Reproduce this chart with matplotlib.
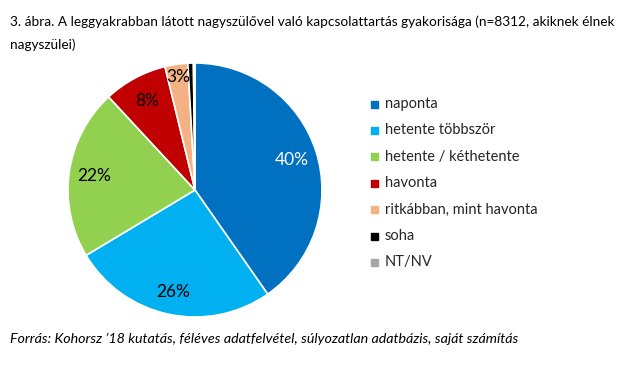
import matplotlib.pyplot as plt
import numpy as np

plt.rcParams['font.family'] = ['Lato', 'DejaVu Sans']

categories = ["naponta", "hetente többször", "hetente / kéthetente", "havonta",
              "ritkábban, mint havonta", "soha", "NT/NV"]
values = [40.3, 26.1, 21.7, 8.1, 2.9, 0.7, 0.2]
labels = ["40%", "26%", "22%", "8%", "3%", "", ""]
colors = ["#0070C0", "#00B0F0", "#92D050", "#C00000", "#F4B183", "#000000", "#A6A6A6"]
text_colors = ["white", "black", "black", "black", "black", "black", "black"]

W, H = 625, 371
fig = plt.figure(figsize=(W / 100, H / 100), dpi=100)

# pie axes: center ~ (195, 190), radius ~127 px
cx, cy, r = 195, 190, 127
ax = fig.add_axes([(cx - r) / W, 1 - (cy + r) / H, 2 * r / W, 2 * r / H])
wedges, _ = ax.pie(values, colors=colors, startangle=90, counterclock=False,
                   wedgeprops=dict(edgecolor="white", linewidth=1.2))
ax.set_aspect("equal")
ax.set_xlim(-1, 1)
ax.set_ylim(-1, 1)

# percent labels
total = sum(values)
start = 90.0
dists = [0.8, 0.82, 0.8, 0.8, 0.9, 0, 0]
for v, lab, tc, d in zip(values, labels, text_colors, dists):
    ang = start - v / total * 360 / 2
    start -= v / total * 360
    if not lab:
        continue
    a = np.deg2rad(ang)
    ax.text(d * np.cos(a), d * np.sin(a), lab, ha="center", va="center",
            fontsize=12.5, color=tc)

# legend
y0, dy = 104, 26.4
for i, (cat, col) in enumerate(zip(categories, colors)):
    y = 1 - (y0 + i * dy) / H
    fig.patches.append(plt.Rectangle((371 / W, y - 3.5 / H), 7 / W, 7 / H,
                                     transform=fig.transFigure, color=col))
    fig.text(385 / W, y, cat, fontsize=10.5, va="center", ha="left", color="#262626")

fig.text(10 / W, 1 - 22 / H,
         "3. ábra. A leggyakrabban látott nagyszülővel való kapcsolattartás gyakorisága (n=8312, akiknek élnek",
         fontsize=9.8, va="center", ha="left")
fig.text(10 / W, 1 - 45 / H, "nagyszülei)", fontsize=9.8, va="center", ha="left")
fig.text(10 / W, 1 - 339 / H,
         "Forrás: Kohorsz ’18 kutatás, féléves adatfelvétel, súlyozatlan adatbázis, saját számítás",
         fontsize=10.3, va="center", ha="left", style="italic")

fig.savefig("out.png", dpi=100)
